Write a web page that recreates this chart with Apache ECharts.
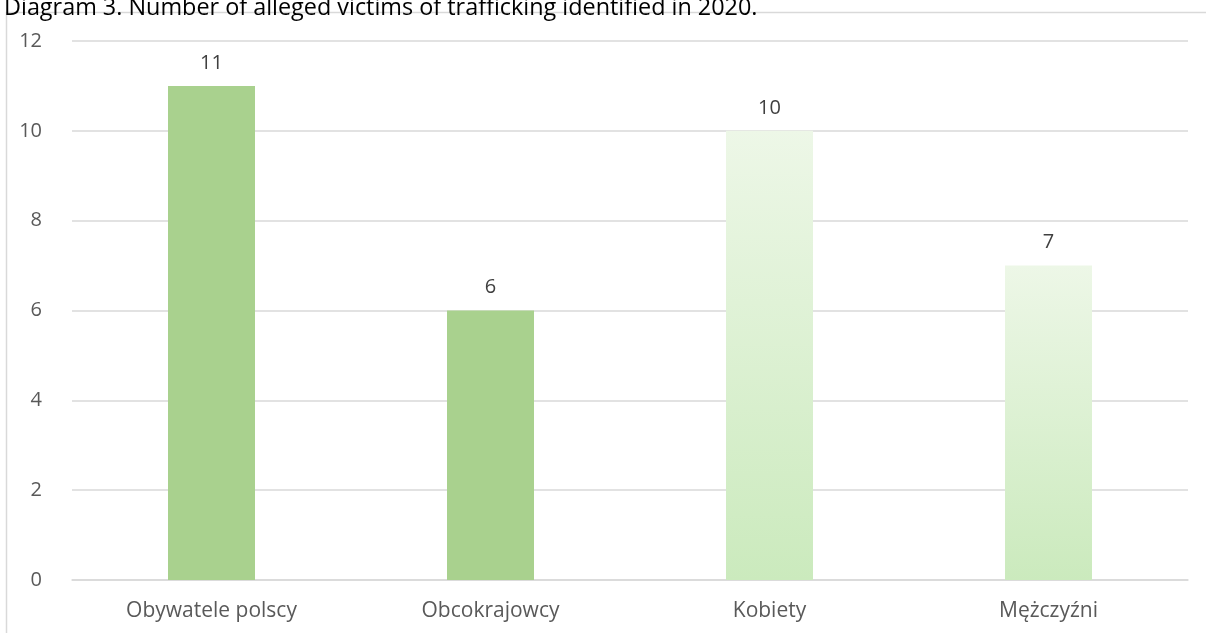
<!DOCTYPE html>
<html><head><meta charset="utf-8">
<script src="https://cdn.jsdelivr.net/npm/echarts@6/dist/echarts.min.js"></script>
<style>html,body{margin:0;padding:0;background:#fff}#c{width:1206px;height:633px}</style>
</head><body><div id="c"></div>
<script>
const titleText = 'Diagram 3. Number of alleged victims of trafficking identified in 2020.';
const categories = ['Obywatele polscy', 'Obcokrajowcy', 'Kobiety', 'Mężczyźni'];
const values = [11, 6, 10, 7];
const gradientBars = [false, false, true, true];

const chart = echarts.init(document.getElementById('c'));
const solid = '#A9D18E';
const grad = new echarts.graphic.LinearGradient(0, 0, 0, 1, [
  {offset: 0, color: '#EDF7E7'},
  {offset: 1, color: '#CBEABD'}
]);
chart.setOption({
  animation: false,
  textStyle: {fontFamily: 'Open Sans'},
  title: {
    text: titleText, left: -1, top: -8,
    textStyle: {fontFamily: 'Open Sans', fontSize: 23.4, fontWeight: 'normal', color: '#000'}
  },
  graphic: [{
    type: 'rect', shape: {x: 6.5, y: 12.5, width: 1300, height: 700},
    style: {fill: null, stroke: '#D9D9D9', lineWidth: 1.5}, silent: true, z: -1
  }],
  grid: {left: 72, right: 18, top: 41, bottom: 53},
  xAxis: {
    type: 'category', data: categories,
    axisLine: {show: true, lineStyle: {color: '#D9D9D9', width: 1.5}},
    axisTick: {show: false},
    axisLabel: {color: '#595959', fontSize: 21, margin: 21}
  },
  yAxis: {
    type: 'value', min: 0, max: 12, interval: 2,
    axisLine: {show: false}, axisTick: {show: false},
    splitLine: {lineStyle: {color: '#D9D9D9', width: 1.5}},
    axisLabel: {color: '#595959', fontSize: 20, margin: 30}
  },
  series: [{
    type: 'bar', barWidth: 87,
    data: values.map((v, i) => ({value: v, itemStyle: {color: gradientBars[i] ? grad : solid}})),
    label: {show: true, position: 'top', distance: 13, color: '#404040', fontSize: 20}
  }]
});
</script></body></html>
